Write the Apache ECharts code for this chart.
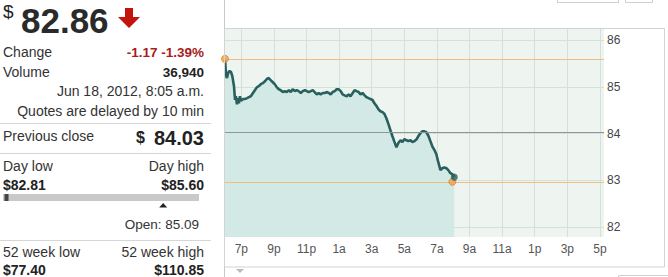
<!DOCTYPE html>
<html><head><meta charset="utf-8">
<script src="https://cdn.jsdelivr.net/npm/echarts@6/dist/echarts.min.js"></script>
<style>html,body{margin:0;padding:0;background:#fff}#c{width:668px;height:277px}</style>
</head><body><div id="c"></div>
<script>
// ---- data (minutes after 6:00 p.m., price) ----
const times = [
  0,4,7,11,16,22,27,33,37,40,
  44,48,51,55,59,66,73,81,88,95,
  103,110,117,125,132,139,147,154,161,169,
  176,183,191,198,205,213,220,227,235,242,
  249,257,264,271,279,286,294,301,308,316,
  323,330,338,345,352,360,367,374,382,389,
  396,404,411,418,426,433,440,448,455,462,
  470,477,484,492,499,506,514,521,528,536,
  543,550,558,565,572,580,587,594,602,609,
  616,624,631,638,646,653,660,668,675,683,
  690,697,705,712,719,727,734,741,749,756,
  763,771,778,785,793,800,807,815,822,829,
  837,844];
const prices = [
  85.60,85.25,85.19,85.29,85.34,85.32,85.23,85.02,84.72,84.80,
  84.63,84.76,84.65,84.80,84.70,84.74,84.74,84.76,84.78,84.80,
  84.87,84.93,84.99,85.02,85.06,85.08,85.12,85.17,85.19,85.14,
  85.10,85.06,84.99,84.95,84.93,84.89,84.91,84.89,84.93,84.89,
  84.95,84.91,84.93,84.91,84.87,84.91,84.93,84.91,84.89,84.91,
  84.93,84.89,84.84,84.87,84.84,84.87,84.87,84.89,84.87,84.84,
  84.89,84.91,84.95,84.95,84.91,84.84,84.82,84.80,84.84,84.80,
  84.87,84.93,84.91,84.89,84.84,84.87,84.82,84.78,84.76,84.74,
  84.72,84.65,84.59,84.52,84.48,84.46,84.42,84.33,84.20,84.07,
  83.95,83.82,83.71,83.80,83.86,83.82,83.88,83.86,83.84,83.86,
  83.82,83.84,83.88,83.95,84.01,84.05,84.05,84.03,83.95,83.84,
  83.73,83.65,83.56,83.39,83.22,83.26,83.28,83.26,83.22,83.16,
  83.13,83.07];
const xTickMinutes = [60,180,300,420,540,660,780,900,1020,1140,1260,1380];
const xTickLabels = ['7p','9p','11p','1a','3a','5a','7a','9a','11a','1p','3p','5p'];
const yTicks = [82,83,84,85,86];
const previousCloseLine = 84.03;
const orangeLines = [85.60, 82.97];
const markerTimes = [0, 837];
const markerPrices = [85.60, 82.97];

// ---- quote panel text ----
const lastPrice = '82.86';
const changeText = '-1.17 -1.39%';
const volumeText = '36,940';
const timestampText = 'Jun 18, 2012, 8:05 a.m.';
const delayText = 'Quotes are delayed by 10 min';
const prevClose = '84.03';
const dayLow = 82.81, dayHigh = 85.60, openPrice = 85.09, currentPrice = 82.86;
const week52Low = '$77.40', week52High = '$110.85';

const FF = '"Liberation Sans", Arial, sans-serif';
function T(x, y, text, o) {
  const st = Object.assign({text: text, fill: '#333', font: '14px ' + FF, align: 'left', verticalAlign: 'middle'}, o || {});
  st.textAlign = st.align; st.textVerticalAlign = st.verticalAlign;
  return {type: 'text', x: x, y: y, silent: true, z: 10, style: st};
}
function L(x1, y1, x2, y2, c) {
  return {type: 'line', silent: true, z: 10, shape: {x1: x1, y1: y1, x2: x2, y2: y2}, style: {stroke: c || '#d6d6d6', lineWidth: 1}};
}
const barX = 3, barW = 196;
const posOf = v => barX + (v - dayLow) / (dayHigh - dayLow) * barW;
const curX = Math.max(barX, posOf(currentPrice) - 2);
const openX = posOf(openPrice);

const graphics = [
  T(3, 11, '$', {font: '19px ' + FF, fill: '#222', lineHeight: 18}),
  T(21, 20, lastPrice, {font: 'bold 35px ' + FF, fill: '#2a2a2a'}),
  {type: 'polygon', silent: true, z: 10, shape: {points: [[125,8],[133,8],[133,17],[140,17],[129,28],[118,17],[125,17]]}, style: {fill: '#c4120c'}},
  T(3, 52, 'Change'),
  T(204, 52, changeText, {font: 'bold 13.5px ' + FF, fill: '#a81c1c', align: 'right'}),
  T(3, 72, 'Volume'),
  T(204, 72, volumeText, {font: 'bold 13.5px ' + FF, fill: '#222', align: 'right'}),
  T(204, 91, timestampText, {align: 'right'}),
  T(204, 111, delayText, {align: 'right'}),
  L(0, 123.5, 211, 123.5),
  T(3, 136, 'Previous close'),
  T(145, 137, '$', {font: 'bold 16px ' + FF, fill: '#222', align: 'right'}),
  T(204, 138, prevClose, {font: 'bold 20px ' + FF, fill: '#222', align: 'right'}),
  L(0, 153.5, 211, 153.5),
  T(3, 166, 'Day low'),
  T(204, 166, 'Day high', {align: 'right'}),
  T(3, 185, '$' + dayLow.toFixed(2), {font: 'bold 14px ' + FF, fill: '#222'}),
  T(204, 185, '$' + dayHigh.toFixed(2), {font: 'bold 14px ' + FF, fill: '#222', align: 'right'}),
  {type: 'rect', silent: true, z: 10, shape: {x: barX, y: 194, width: barW, height: 7}, style: {fill: '#c9c9c9'}},
  {type: 'rect', silent: true, z: 11, shape: {x: curX, y: 194, width: 4, height: 7}, style: {fill: '#444'}},
  {type: 'polygon', silent: true, z: 10, shape: {points: [[openX - 4, 207.5],[openX + 4, 207.5],[openX, 203]]}, style: {fill: '#222'}},
  T(199, 224, 'Open: ' + openPrice.toFixed(2), {font: '13.5px ' + FF, align: 'right'}),
  L(0, 240.5, 211, 240.5),
  T(3, 252, '52 week low'),
  T(204, 252, '52 week high', {align: 'right'}),
  T(3, 270, week52Low, {font: 'bold 14px ' + FF, fill: '#222', lineHeight: 12}),
  T(204, 270, week52High, {font: 'bold 14px ' + FF, fill: '#222', align: 'right', lineHeight: 12}),
  // chart frame decorations
  L(224.5, 0, 224.5, 277, '#c8c8c8'),
  {type: 'rect', silent: true, z: 10, shape: {x: 224.5, y: 28.5, width: 440, height: 238.5}, style: {fill: 'none', stroke: '#d3d3d3', lineWidth: 1}},
  {type: 'polygon', silent: true, z: 10, shape: {points: [[236,269],[244,269],[240,273]]}, style: {fill: '#b6bac6'}},
  {type: 'rect', silent: true, z: 10, shape: {x: 557.5, y: -10, width: 61, height: 12.5}, style: {fill: 'none', stroke: '#cfcfcf', lineWidth: 1}},
  {type: 'rect', silent: true, z: 10, shape: {x: 625.5, y: -10, width: 27, height: 12.5}, style: {fill: 'none', stroke: '#cfcfcf', lineWidth: 1}},
  {type: 'rect', silent: true, z: 10, shape: {x: 618.5, y: 275.5, width: 60, height: 10}, style: {fill: 'none', stroke: '#cfcfcf', lineWidth: 1}}
];

const chart = echarts.init(document.getElementById('c'), null, {renderer: 'svg'});
chart.setOption({
  animation: false,
  backgroundColor: '#fff',
  grid: {left: 225, right: 64, top: 28, bottom: 40, show: true, backgroundColor: '#eef5f0', borderWidth: 0},
  xAxis: {
    type: 'value', min: 0, max: 1395,
    axisLine: {show: false},
    axisTick: {show: false, customValues: xTickMinutes},
    axisLabel: {customValues: xTickMinutes, color: '#555', fontSize: 12, fontFamily: FF, margin: 6,
      formatter: v => xTickLabels[xTickMinutes.indexOf(v)] || ''},
    splitLine: {show: true, lineStyle: {color: '#d3e1d9', width: 1}}
  },
  yAxis: {
    type: 'value', position: 'right', min: 81.79, max: 86.26,
    axisLine: {show: false},
    axisTick: {show: false, customValues: yTicks},
    axisLabel: {customValues: yTicks, color: '#444', fontSize: 12, fontFamily: FF, margin: 3},
    splitLine: {show: true, lineStyle: {color: '#d3e1d9', width: 1}}
  },
  series: [
    {
      type: 'line', data: times.map((t, i) => [t, prices[i]]),
      showSymbol: false, symbol: 'none',
      lineStyle: {color: '#27605f', width: 2.6},
      areaStyle: {color: '#d3e9e5', opacity: 1, origin: 'start'},
      z: 3,
      markLine: {
        silent: true, symbol: 'none', label: {show: false}, animation: false,
        data: [
          {yAxis: previousCloseLine, lineStyle: {color: '#8f9693', width: 1.2, type: 'solid'}},
          {yAxis: orangeLines[0], lineStyle: {color: '#f2bd83', width: 1, type: 'solid'}},
          {yAxis: orangeLines[1], lineStyle: {color: '#f2bd83', width: 1, type: 'solid'}}
        ]
      }
    },
    {
      type: 'scatter', z: 5, symbolSize: 7,
      data: markerTimes.map((t, i) => [t, markerPrices[i]]),
      itemStyle: {color: '#f2a24a', borderColor: '#d9842a', borderWidth: 1}
    },
    {
      type: 'scatter', z: 6, symbolSize: 7,
      data: [[times[times.length - 1], prices[prices.length - 1]]],
      itemStyle: {color: '#27605f'}
    }
  ],
  graphic: {elements: graphics}
});
</script>
</body></html>
